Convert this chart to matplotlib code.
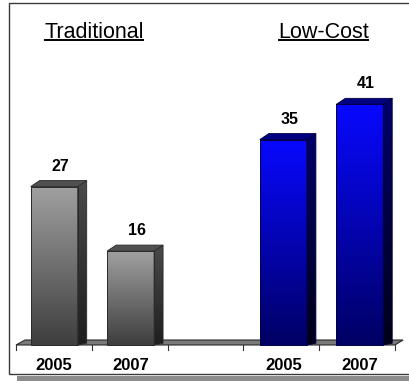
import matplotlib
matplotlib.use("Agg")
import matplotlib.pyplot as plt
import numpy as np
from matplotlib.patches import Polygon, Rectangle
from matplotlib.colors import LinearSegmentedColormap

plt.rcParams["font.family"] = ["Liberation Sans", "DejaVu Sans"]

groups = ["Traditional", "Low-Cost"]
years = ["2005", "2007", "", "2005", "2007"]
values = [27, 16, None, 35, 41]
group_of_bar = [0, 0, None, 1, 1]

# per-group styling: front gradient (top, bottom), top face, side face
styles = [
    dict(front=("#a0a0a0", "#3e3e3e"), top="#505050", side=("#4a4a4a", "#1e1e1e"), edge="#2a2a2a"),
    dict(front=("#0808ff", "#000064"), top="#000080", side=("#00006a", "#000018"), edge="#000040"),
]

W, H = 410, 381
fig = plt.figure(figsize=(W / 100, H / 100), dpi=100, facecolor="white")
ax = fig.add_axes([0, 0, 1, 1])
ax.set_axis_off()
ax.set_zorder(2)

# pixel mapping: slot width 76.4 px starting at x=16, value 0 at y=345, 5.87 px per unit
slot_px, x0_px, base_px, unit_px = 76.4, 16, 345, 5.87
xlim = (-0.5 - x0_px / slot_px, -0.5 - x0_px / slot_px + W / slot_px)
ylim = (-(H - base_px) / unit_px, base_px / unit_px)

bar_w = 47 / slot_px
dx = 9 / slot_px
dy = 6 / unit_px

# frame and drop shadow
fig.patches.append(Rectangle((17 / W, 0), 1, 5.5 / H, transform=fig.transFigure,
                             facecolor="#8c8c8c", edgecolor="none", zorder=0))
fig.patches.append(Rectangle((9.5 / W, 7.5 / H), 1.05, (378.5 - 7.5) / H, transform=fig.transFigure,
                             facecolor="white", edgecolor="#3a3a3a", linewidth=1.0, zorder=0.5))

# floor strip with slanted ends
floor_h = 5 / unit_px
floor = Polygon([(-0.5, 0), (4.46, 0), (4.46 + dx * 0.9, floor_h), (-0.5 + dx, floor_h)],
                closed=True, facecolor="#7a7a7a", edgecolor="#2a2a2a", linewidth=0.8, zorder=1)
ax.add_patch(floor)
for k in range(6):
    xt = -0.5 + k * 0.992
    ax.plot([xt, xt], [0, -0.85], color="#333333", linewidth=0.8, zorder=1)

for i, v in enumerate(values):
    if v is None:
        continue
    st = styles[group_of_bar[i]]
    left, right = i - bar_w / 2, i + bar_w / 2

    # side face
    side_cmap = LinearSegmentedColormap.from_list("side", [st["side"][1], st["side"][0]])
    side = Polygon([(right, 0), (right + dx, dy * 0.3), (right + dx, v + dy), (right, v)], closed=True,
                   facecolor="none", edgecolor=st["edge"], linewidth=0.6, zorder=3)
    ax.add_patch(side)
    img = ax.imshow(np.linspace(0, 1, 256)[:, None], cmap=side_cmap, origin="lower", aspect="auto",
                    extent=(right, right + dx, 0, v + dy), zorder=2)
    img.set_clip_path(side)

    # top face
    ax.add_patch(Polygon([(left, v), (left + dx, v + dy), (right + dx, v + dy), (right, v)], closed=True,
                         facecolor=st["top"], edgecolor=st["edge"], linewidth=0.6, zorder=3))

    # front face with vertical gradient
    front_cmap = LinearSegmentedColormap.from_list("front", [st["front"][1], st["front"][0]])
    ax.imshow(np.linspace(0, 1, 256)[:, None], cmap=front_cmap, origin="lower", aspect="auto",
              extent=(left, right, 0, v), zorder=2)
    ax.add_patch(Rectangle((left, 0), bar_w, v, facecolor="none", edgecolor=st["edge"],
                           linewidth=0.7, zorder=3))

    ax.text(i + 0.08, v + dy + 10 / unit_px, f"{v}", ha="center", va="baseline",
            fontsize=11.5, fontweight="bold", color="black", zorder=4)

for i, y in enumerate(years):
    if y:
        ax.text(i, -25 / unit_px, y, ha="center", va="baseline", fontsize=12,
                fontweight="bold", color="black", zorder=4)

header_y = (base_px - 38) / unit_px
headers = []
for g, xc in zip(groups, [0.52, 3.52]):
    headers.append(ax.text(xc, header_y, g, ha="center", va="baseline", fontsize=15.5, color="black", zorder=4))

ax.set_xlim(*xlim)
ax.set_ylim(*ylim)

# underline the group headers
fig.canvas.draw()
inv = ax.transData.inverted()
for t in headers:
    bb = t.get_window_extent()
    (xa, _), (xb, _) = inv.transform([(bb.x0, 0), (bb.x1, 0)])
    uy = (base_px - 40) / unit_px
    ax.plot([xa, xb], [uy, uy], color="black", linewidth=1.4, solid_capstyle="butt", zorder=4)

ax.set_xlim(*xlim)
ax.set_ylim(*ylim)
fig.savefig("out.png", dpi=100, facecolor="white")
